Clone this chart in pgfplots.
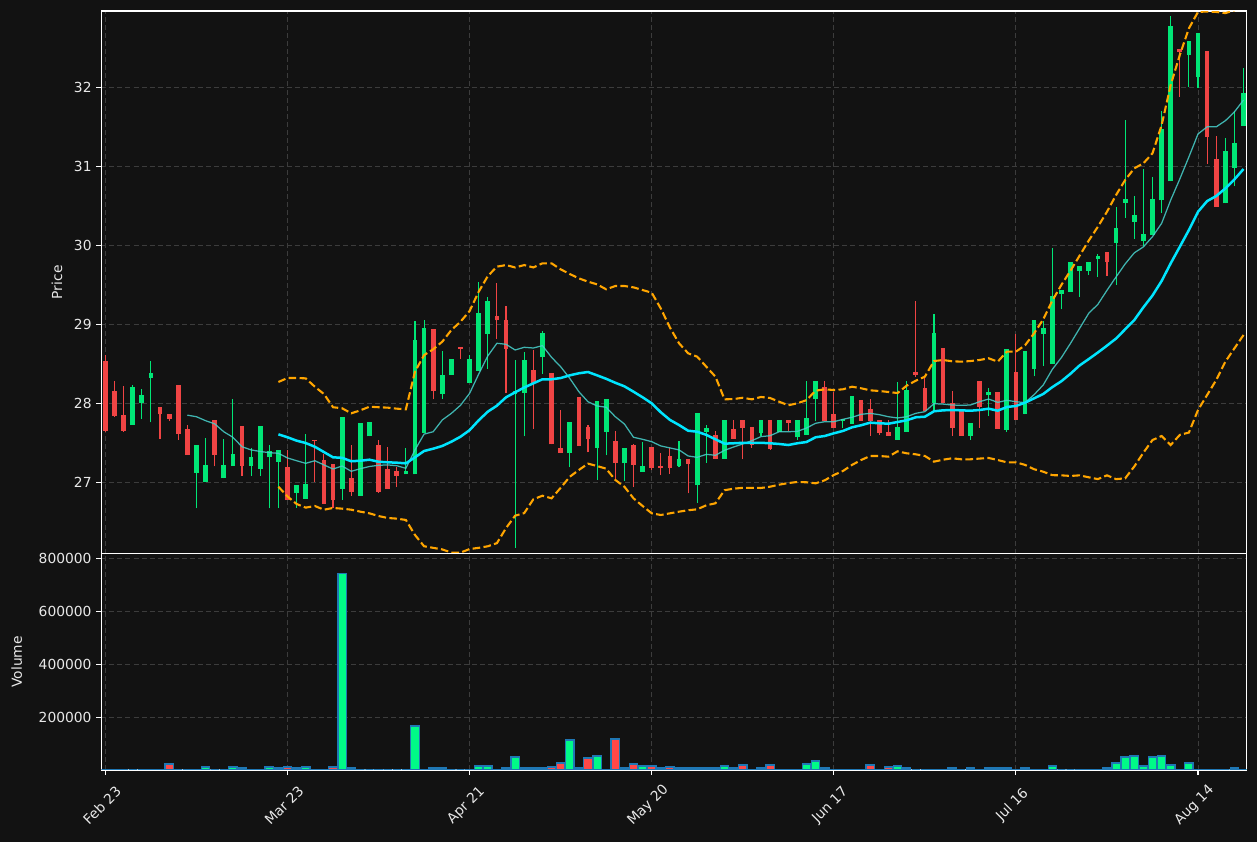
\documentclass[border=0pt]{standalone}
\usepackage{fontspec}
\setmainfont{DejaVu Sans}
\usepackage{pgfplots}
\usepackage{pgfplotstable}
\pgfplotsset{compat=1.18}
\definecolor{bgc}{HTML}{121212}
\definecolor{gridc}{HTML}{3C3C3C}
\definecolor{upc}{HTML}{00E676}
\definecolor{dnc}{HTML}{F04444}
\definecolor{vup}{HTML}{00FA87}
\definecolor{vdn}{HTML}{FF4848}
\definecolor{vedge}{HTML}{1F77B4}
\definecolor{macyan}{HTML}{00E5FF}
\definecolor{thinc}{HTML}{48D1CC}
\definecolor{bbc}{HTML}{FFA500}
\definecolor{txtc}{HTML}{E8E8E8}

% i open high low close volume -- rising days
\pgfplotstableread{
i o h l c v
3 27.73 28.23 27.73 28.21 0
4 28.00 28.18 27.80 28.10 0
5 28.32 28.54 27.76 28.38 2500
10 27.12 27.47 26.67 27.47 2500
11 27.00 27.56 27.00 27.22 11200
13 27.05 27.55 27.05 27.22 0
14 27.21 28.05 27.21 27.36 11200
16 27.21 27.44 27.08 27.32 3000
17 27.17 27.71 27.08 27.71 3000
18 27.32 27.47 26.67 27.40 11200
19 27.26 27.41 26.68 27.41 7400
21 26.87 26.97 26.68 26.97 7400
22 26.79 27.61 26.79 26.98 11200
26 26.92 27.83 26.78 27.83 743300
28 26.83 27.75 26.83 27.75 0
29 27.58 27.76 27.58 27.76 0
33 27.10 27.44 27.10 27.14 0
34 27.10 29.04 27.10 28.80 165900
35 27.63 29.05 27.63 28.95 0
37 28.12 28.66 28.06 28.36 7400
38 28.36 28.56 28.36 28.56 0
40 28.26 28.61 28.26 28.56 3000
41 28.41 29.53 28.41 29.14 15000
42 28.88 29.34 28.44 29.30 15000
45 28.12 28.55 26.17 28.15 48900
46 28.13 28.65 27.58 28.55 7400
48 28.58 28.91 28.37 28.89 7400
51 27.37 27.76 27.19 27.76 113100
54 27.44 28.03 27.03 28.03 52700
55 27.64 28.05 27.34 28.05 3000
57 27.24 27.43 27.02 27.43 7400
59 27.13 27.51 27.13 27.21 15000
63 27.21 27.52 27.19 27.30 7400
65 26.96 27.88 26.74 27.88 7400
66 27.64 27.72 27.25 27.69 7400
68 27.30 27.79 27.30 27.79 15000
72 27.63 27.79 27.58 27.79 7400
74 27.64 27.79 27.64 27.79 0
76 27.57 27.79 27.54 27.79 2500
77 27.60 28.28 27.60 27.82 22500
78 28.06 28.28 27.77 28.28 33800
81 27.77 27.80 27.69 27.80 2500
82 27.74 28.09 27.74 28.09 0
87 27.54 28.27 27.54 27.70 15000
88 27.64 28.28 27.64 28.17 7400
91 28.00 29.13 27.89 28.89 2500
95 27.59 27.75 27.54 27.75 7400
97 28.10 28.19 27.84 28.14 7400
99 27.66 28.69 27.64 28.69 7400
101 27.87 28.66 27.86 28.66 7400
102 28.43 29.05 28.34 29.05 2500
103 28.88 29.04 28.47 28.95 2500
104 28.50 29.97 28.50 29.36 15000
105 29.39 29.43 29.19 29.43 0
106 29.41 29.79 29.41 29.79 0
107 29.67 29.74 29.35 29.74 2500
108 29.68 29.79 29.63 29.79 2500
109 29.83 29.89 29.60 29.87 2500
111 30.03 30.48 29.50 30.22 26300
112 30.54 31.59 30.35 30.59 48900
113 30.30 30.63 30.08 30.38 52700
114 30.06 30.96 29.99 30.14 15000
115 30.13 30.86 30.13 30.59 48900
116 30.57 31.70 30.41 31.47 52700
117 30.81 32.90 30.81 32.78 18700
119 32.41 32.59 32.01 32.59 26300
120 32.13 32.69 31.99 32.69 0
123 30.53 31.36 30.53 31.19 0
124 30.98 31.70 30.75 31.30 7400
125 31.51 32.24 31.51 31.93 2500
}\up

% falling days
\pgfplotstableread{
i o h l c v
0 28.53 28.61 27.64 27.65 2500
1 28.16 28.28 27.83 27.84 2500
2 27.85 28.22 27.64 27.65 2500
6 27.95 27.95 27.55 27.86 2500
7 27.87 27.87 27.78 27.80 22500
8 28.23 28.23 27.54 27.61 0
9 27.68 27.72 27.35 27.35 2500
12 27.79 27.79 27.20 27.35 0
15 27.71 27.71 27.08 27.21 7400
20 27.19 27.41 26.78 26.78 11200
23 27.54 27.54 27.00 27.53 0
24 27.28 27.36 26.73 26.73 3000
25 27.23 27.23 26.68 26.78 11200
27 27.05 27.47 26.83 26.88 7400
30 27.47 27.53 26.87 26.88 3000
31 27.17 27.45 26.92 26.92 0
32 27.14 27.19 26.94 27.08 0
36 28.94 28.94 28.05 28.16 7400
39 28.71 28.71 28.56 28.69 0
43 29.11 29.52 28.82 29.05 3000
44 29.05 29.23 28.13 28.69 7400
47 28.42 28.67 27.68 28.26 7400
49 28.38 28.38 27.48 27.48 11200
50 27.43 27.91 27.37 27.37 26300
52 28.08 28.08 27.46 27.46 7400
53 27.70 27.72 27.38 27.55 45200
56 27.52 27.65 27.01 27.25 116900
58 27.47 27.49 26.94 27.22 22500
60 27.45 27.45 27.16 27.18 15000
61 27.21 27.37 27.09 27.18 7400
62 27.33 27.43 27.11 27.18 11200
64 27.30 27.30 26.86 27.23 7400
67 27.60 27.65 27.30 27.30 7400
69 27.67 27.79 27.55 27.55 7400
70 27.79 27.79 27.29 27.69 18700
71 27.70 27.70 27.44 27.47 2500
73 27.79 27.79 27.41 27.42 18700
75 27.79 27.79 27.65 27.75 2500
79 28.21 28.28 27.78 27.78 7400
80 27.87 28.14 27.69 27.69 2500
83 28.04 28.04 27.78 27.78 2500
84 27.93 28.05 27.59 27.78 18700
85 27.79 27.79 27.60 27.63 2500
86 27.64 27.79 27.59 27.59 11200
89 28.40 29.29 28.33 28.36 0
90 28.19 28.32 27.90 27.90 0
92 28.70 28.70 28.00 28.00 0
93 28.00 28.15 27.59 27.69 7400
94 27.92 27.92 27.59 27.59 0
96 28.28 28.28 27.69 27.95 2500
98 28.14 28.14 27.68 27.68 7400
100 28.40 28.88 27.79 27.79 0
110 29.92 29.92 29.61 29.79 7400
118 32.48 32.48 31.88 32.45 2500
121 32.46 32.46 31.03 31.37 2500
122 31.09 31.38 30.49 30.49 2500
}\down

% moving averages and Bollinger bands
\pgfplotstableread{
i ma10 ma20 bbu bbl
9 27.85 nan nan nan
10 27.83 nan nan nan
11 27.78 nan nan nan
12 27.74 nan nan nan
13 27.64 nan nan nan
14 27.57 nan nan nan
15 27.45 nan nan nan
16 27.41 nan nan nan
17 27.39 nan nan nan
18 27.375 nan nan nan
19 27.367 27.607 28.27 26.944
20 27.308 27.57 28.32 26.82
21 27.273 27.527 28.32 26.725
22 27.24 27.497 28.316 26.679
23 27.273 27.45 28.21 26.70
24 27.22 27.383 28.118 26.653
25 27.168 27.316 27.95 26.675
26 27.206 27.31 27.937 26.666
27 27.139 27.266 27.873 26.653
28 27.172 27.273 27.911 26.628
29 27.20 27.286 27.957 26.607
30 27.215 27.26 27.95 26.573
31 27.22 27.253 27.945 26.548
32 27.21 27.248 27.932 26.54
33 27.177 27.24 27.924 26.523
34 27.41 27.316 28.40 26.333
35 27.61 27.396 28.61 26.19
36 27.64 27.425 28.684 26.17
37 27.789 27.46 28.78 26.15
38 27.873 27.514 28.928 26.11
39 27.975 27.577 29.033 26.11
40 28.126 27.66 29.168 26.155
41 28.37 27.785 29.413 26.17
42 28.60 27.894 29.611 26.19
43 28.76 27.97 29.73 26.23
44 28.747 28.076 29.75 26.42
45 28.675 28.139 29.72 26.577
46 28.709 28.20 29.75 26.61
47 28.70 28.253 29.72 26.785
48 28.73 28.304 29.772 26.83
49 28.582 28.304 29.772 26.797
50 28.463 28.32 29.696 26.93
51 28.316 28.354 29.637 27.07
52 28.147 28.38 29.582 27.156
53 28.02 28.396 29.54 27.236
54 27.966 28.354 29.506 27.206
55 27.95 28.31 29.443 27.172
56 27.83 28.26 29.485 27.03
57 27.738 28.215 29.485 26.944
58 27.57 28.147 29.468 26.797
59 27.544 28.076 29.434 26.70
60 27.514 28.0 29.40 26.607
61 27.46 27.886 29.2 26.586
62 27.435 27.79 28.96 26.607
63 27.41 27.725 28.76 26.628
64 27.333 27.653 28.633 26.646
65 27.316 27.64 28.59 26.658
66 27.354 27.60 28.463 26.709
67 27.342 27.544 28.337 26.734
68 27.405 27.489 28.05 26.90
69 27.447 27.494 28.054 26.919
70 27.485 27.50 28.07 26.93
71 27.527 27.50 28.05 26.93
72 27.578 27.50 28.08 26.928
73 27.59 27.494 28.067 26.944
74 27.64 27.485 28.02 26.97
75 27.64 27.472 27.975 26.99
76 27.645 27.494 28.0 27.004
77 27.687 27.51 28.04 27.0
78 27.747 27.57 28.16 26.987
79 27.767 27.586 28.177 27.025
80 27.767 27.62 28.168 27.092
81 27.797 27.65 28.177 27.143
82 27.823 27.696 28.21 27.22
83 27.86 27.722 28.19 27.282
84 27.873 27.755 28.164 27.333
85 27.856 27.747 28.156 27.333
86 27.83 27.742 28.143 27.324
87 27.814 27.763 28.13 27.392
88 27.83 27.785 28.223 27.367
89 27.873 27.823 28.286 27.354
90 27.894 27.83 28.337 27.333
91 27.995 27.899 28.535 27.261
92 27.99 27.911 28.548 27.286
93 27.978 27.915 28.532 27.304
94 27.975 27.911 28.527 27.291
95 27.978 27.906 28.535 27.291
96 28.02 27.915 28.548 27.30
97 28.054 27.932 28.57 27.308
98 28.012 27.906 28.527 27.282
99 28.038 27.953 28.654 27.253
100 28.02 27.966 28.654 27.253
101 28.008 28.008 28.734 27.22
102 28.11 28.063 28.886 27.165
103 28.232 28.118 29.063 27.134
104 28.43 28.205 29.30 27.09
105 28.58 28.28 29.50 27.088
106 28.76 28.375 29.68 27.08
107 28.95 28.48 29.87 27.088
108 29.14 28.56 30.06 27.063
109 29.253 28.643 30.235 27.04
110 29.43 28.73 30.425 27.088
111 29.60 28.82 30.637 27.04
112 29.765 28.937 30.827 27.05
113 29.905 29.054 30.975 27.20
114 29.98 29.215 31.038 27.375
115 30.11 29.365 31.165 27.535
116 30.278 29.548 31.52 27.586
117 30.573 29.772 32.03 27.472
118 30.84 29.982 32.41 27.60
119 31.12 30.194 32.747 27.63
120 31.41 30.425 32.955 27.915
121 31.50 30.56 32.96 28.105
122 31.50 30.624 32.955 28.295
123 31.577 30.72 32.94 28.527
124 31.69 30.835 32.975 28.696
125 31.84 30.966 33.08 28.865
}\lines

\pgfplotsset{
  darkax/.style={
    scale only axis,
    width=824.7bp,
    xmin=-0.45, xmax=125.35,
    axis line style={white, line width=0.8bp},
    tick style={white, line width=0.8bp},
    major tick length=3.5bp,
    tick align=outside,
    ytick pos=left,
    xtick pos=bottom,
    xtick={0,20,40,60,80,100,120},
    grid=major,
    major grid style={gridc, line width=0.7bp, dash pattern=on 3.6bp off 2.2bp},
    ticklabel style={font=\fontsize{10}{12}\selectfont, text=txtc},
    label style={font=\fontsize{10}{12}\selectfont, text=txtc},
    /pgf/number format/assume math mode=true,
    axis background/.style={fill=bgc},
  },
  candle/.style 2 args={draw=none, mark=none, forget plot,
    error bars/.cd, y dir=plus, y explicit, error mark=none,
    error bar style={draw=#1, solid, line width=#2}},
}

\begin{document}
\begin{tikzpicture}
\path[use as bounding box, fill=bgc] (0bp,0bp) rectangle (905.04bp,606.24bp);

% ---------------- price panel ----------------
\begin{axis}[darkax,
  at={(72.94bp,207.58bp)}, anchor=south west,
  height=390.7bp,
  ymin=26.096, ymax=32.966,
  ytick={27,28,29,30,31,32},
  xticklabels={},
  xtick style={draw=none},
  ylabel={Price},
  ylabel style={at={(axis description cs:-0.0387,0.5)}, anchor=center},
]
% wicks
\addplot[candle={upc}{0.8bp}]
  table[x=i, y=l, y error expr=\thisrow{h}-\thisrow{l}]{\up};
\addplot[candle={dnc}{0.8bp}]
  table[x=i, y=l, y error expr=\thisrow{h}-\thisrow{l}]{\down};
% bodies
\addplot[candle={upc}{3.4bp}]
  table[x=i, y=o, y error expr=\thisrow{c}-\thisrow{o}]{\up};
\addplot[candle={dnc}{3.4bp}]
  table[x=i, y=c, y error expr=\thisrow{o}-\thisrow{c}]{\down};
% lines
\addplot[thinc, line width=0.9bp, opacity=0.85, mark=none] table[x=i, y=ma10]{\lines};
\addplot[macyan, line width=1.8bp, mark=none] table[x=i, y=ma20]{\lines};
\addplot[bbc, line width=1.5bp, mark=none, dash pattern=on 5.5bp off 2.4bp] table[x=i, y=bbu]{\lines};
\addplot[bbc, line width=1.5bp, mark=none, dash pattern=on 5.5bp off 2.4bp] table[x=i, y=bbl]{\lines};
\end{axis}

% ---------------- volume panel ----------------
\begin{axis}[darkax,
  at={(72.94bp,51.84bp)}, anchor=south west,
  height=155.7bp,
  ymin=0, ymax=817000,
  ytick={200000,400000,600000,800000},
  scaled y ticks=false,
  yticklabel style={/pgf/number format/fixed, /pgf/number format/1000 sep={}},
  xticklabels={Feb 23,Mar 23,Apr 21,May 20,Jun 17,Jul 16,Aug 14},
  xticklabel style={xshift=-2.5bp, yshift=-22bp, rotate=45, anchor=center},
  ylabel={Volume},
  ylabel style={at={(axis description cs:-0.0739,0.5)}, anchor=center},
]
\addplot[ybar, bar width=0.92, bar shift=0pt, fill=vup, draw=vedge, line width=0.9bp]
  table[x=i, y=v]{\up};
\addplot[ybar, bar width=0.92, bar shift=0pt, fill=vdn, draw=vedge, line width=0.9bp]
  table[x=i, y=v]{\down};
\end{axis}
\end{tikzpicture}
\end{document}
